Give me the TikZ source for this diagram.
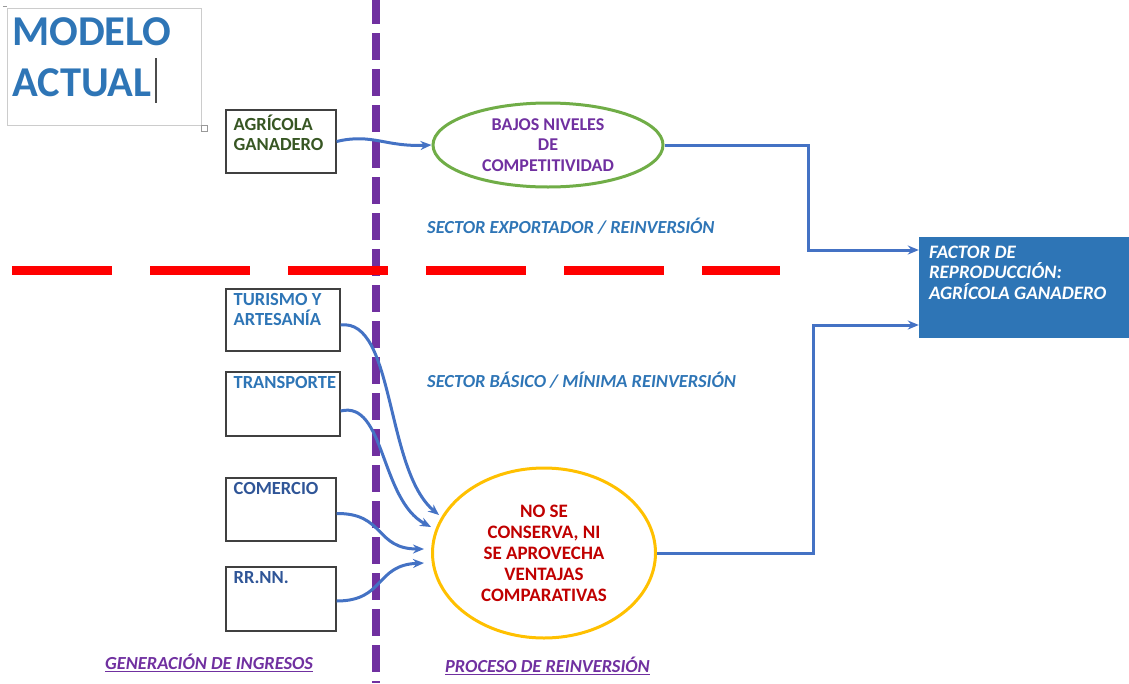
\documentclass[tikz,border=0pt]{standalone}
\usepackage{fontspec}
\setmainfont{Carlito}
\usetikzlibrary{shapes.geometric,arrows.meta}
\definecolor{tblue}{HTML}{2E75B6}
\definecolor{dblue}{HTML}{2F5597}
\definecolor{lpurple}{HTML}{7030A0}
\definecolor{lgreen}{HTML}{70AD47}
\definecolor{dgreen}{HTML}{375623}
\definecolor{lyellow}{HTML}{FFC000}
\definecolor{dred}{HTML}{C00000}
\definecolor{cblue}{HTML}{4472C4}
\begin{document}
\begin{tikzpicture}[x=1pt,y=-1pt,
  sbox/.style={draw=black!75,line width=1.2pt,minimum width=110pt,minimum height=63pt,inner sep=0pt},
  lbl/.style={anchor=north west,inner sep=0pt,align=left,font=\fontsize{18.5}{20}\selectfont\bfseries},
  oval/.style={ellipse,line width=3pt,inner sep=0pt,align=center},
  conn/.style={cblue,line width=3pt,-{Stealth[length=11pt,width=9pt]}},
  sector/.style={anchor=west,inner sep=0pt,tblue,font=\fontsize{18.4}{20}\selectfont\bfseries\itshape}]
\useasboundingbox (0,0) rectangle (1129,683);
% title
\node[draw=black!20,line width=0.8pt,minimum width=194pt,minimum height=117pt] (tbox) at (104,66.5) {};
\node[anchor=north west,inner sep=0pt,align=left,tblue,font=\fontsize{42.5}{51}\selectfont\bfseries] (title) at (12,17) {MODELO\\ACTUAL};
\draw[black!70,line width=1.2pt] (156,58) -- (156,103);
\draw[black!40,line width=0.6pt] (201,125) rectangle (207,131);
\draw[black!40,line width=0.6pt] (3,6) -- (7,6);
% separators
\draw[lpurple,line width=8pt,dash pattern=on 27pt off 9pt] (376,-3) -- (376,683);
\draw[red,line width=9pt,dash pattern=on 100pt off 38pt] (12,270) -- (780,270);
% left boxes
\node[sbox] (agri) at (281,141.5) {};
\node[sbox,minimum width=114pt,minimum height=62pt] (tur) at (283,320) {};
\node[sbox,minimum width=114pt,minimum height=64pt] (tra) at (283,404) {};
\node[sbox] (com) at (281,509.5) {};
\node[sbox,minimum height=64pt] (rrnn) at (281,599) {};
\node[lbl,dgreen] (agri-t) at ([shift={(8,5)}]agri.north west) {AGR\'ICOLA\\GANADERO};
\node[lbl,tblue] (tur-t) at ([shift={(8,5)}]tur.north west) {TURISMO Y\\ARTESAN\'IA};
\node[lbl,tblue] (tra-t) at ([shift={(8,5)}]tra.north west) {TRANSPORTE};
\node[lbl,dblue] (com-t) at ([shift={(8,5)}]com.north west) {COMERCIO};
\node[lbl,dblue] (rrnn-t) at ([shift={(8,5)}]rrnn.north west) {RR.NN.};
% ovals
\node[oval,draw=lgreen,minimum width=230pt,minimum height=84pt,text=lpurple,font=\fontsize{18}{20.5}\selectfont\bfseries] (bajos) at (548,145) {BAJOS NIVELES\\DE\\COMPETITIVIDAD};
\node[oval,draw=lyellow,minimum width=223pt,minimum height=170pt,text=dred,font=\fontsize{19}{21}\selectfont\bfseries] (nose) at (544,553) {NO SE\\CONSERVA, NI\\SE APROVECHA\\VENTAJAS\\COMPARATIVAS};
% result box
\node[fill=tblue,minimum width=210pt,minimum height=101pt,inner sep=0pt] (fac) at (1024,287.5) {};
\node[lbl,white,font=\fontsize{19}{20.5}\selectfont\bfseries\itshape] (fac-t) at ([shift={(10,9)}]fac.north west) {FACTOR DE\\REPRODUCCI\'ON:\\AGR\'ICOLA GANADERO};
% sector labels
\node[sector] (exp) at (427,226) {SECTOR EXPORTADOR / REINVERSI\'ON};
\node[sector] (bas) at (427,380) {SECTOR B\'ASICO / M\'INIMA REINVERSI\'ON};
\node[sector,lpurple] (gen) at (105,663) {\underline{GENERACI\'ON DE INGRESOS}};
\node[sector,lpurple] (pro) at (445,666) {\underline{PROCESO DE REINVERSI\'ON}};
% connectors
\draw[conn] (agri.east) .. controls (372,133) and (385,147) .. (bajos.west);
\draw[conn] ([yshift=-5pt]tur.east) .. controls (395,318) and (385,470) .. ([shift={(8,-38)}]nose.west);
\draw[conn] ([yshift=-7pt]tra.east) .. controls (385,400) and (380,500) .. ([shift={(0,-26)}]nose.west);
\draw[conn] ([yshift=-4pt]com.east) .. controls (385,513) and (375,549) .. ([shift={(-7,-4)}]nose.west);
\draw[conn] ([yshift=-2pt]rrnn.east) .. controls (385,601) and (375,565) .. ([shift={(-7,10)}]nose.west);
\draw[conn] (bajos.east) -- (808,145) |- ([yshift=37.5pt]fac.west);
\draw[conn] (nose.east) -- (813,553) |- ([yshift=-37.5pt]fac.west);
\end{tikzpicture}
\end{document}
